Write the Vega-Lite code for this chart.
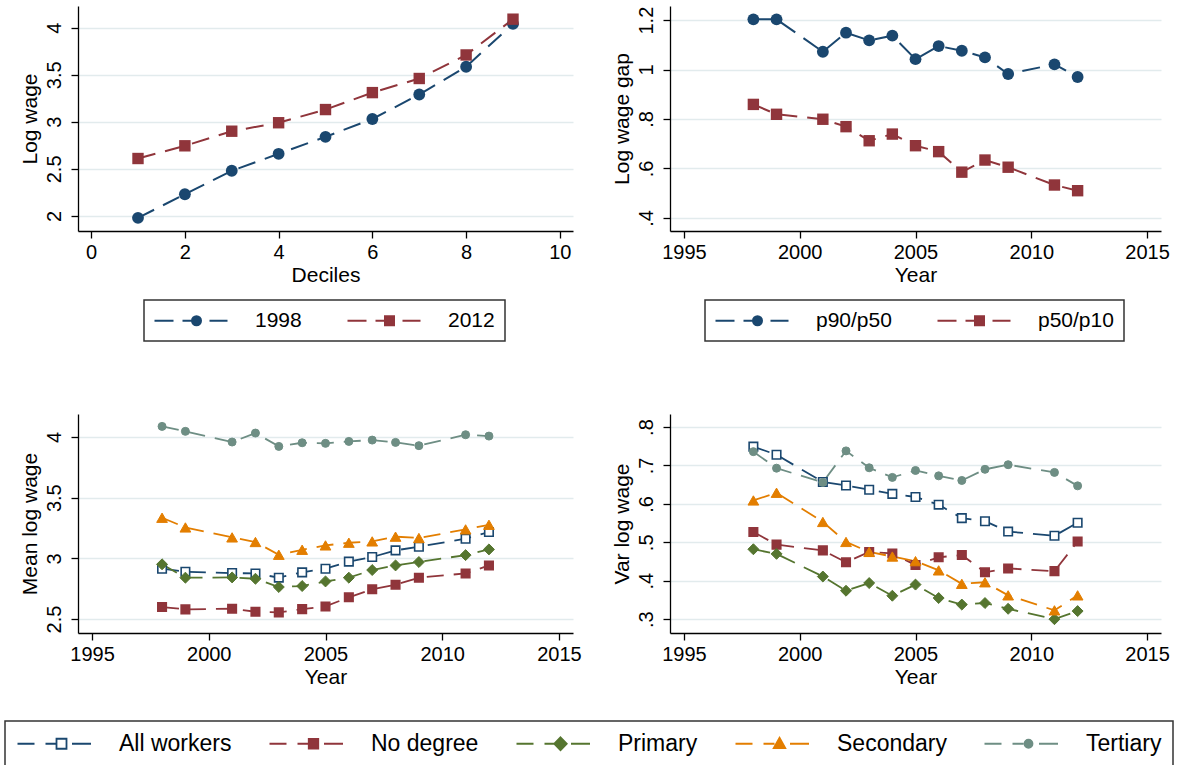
{
"$schema": "https://vega.github.io/schema/vega-lite/v6.json",
"background": "white",
"padding": {"left": 4, "top": 6, "right": 0, "bottom": 0},
"config": {
  "view": {"stroke": null},
  "font": "Liberation Sans",
  "axis": {"domainColor": "#000000", "domainWidth": 1.3, "tickColor": "#000000", "tickWidth": 1.3, "tickSize": 7,
    "labelFont": "Liberation Sans", "labelFontSize": 20, "labelColor": "#000000",
    "titleFont": "Liberation Sans", "titleFontSize": 21, "titleFontWeight": "normal", "titleColor": "#000000",
    "labelOverlap": false, "labelFlush": false, "gridColor": "#e2ebed", "gridWidth": 1.5},
  "axisX": {"grid": false, "labelPadding": 4, "titlePadding": 2},
  "axisY": {"grid": true, "labelAngle": -90, "labelAlign": "center", "labelBaseline": "alphabetic", "labelPadding": 11, "titlePadding": 4},
  "legend": {"labelFont": "Liberation Sans", "labelColor": "#000000", "strokeWidth": 1.5}
},
"datasets": {
  "deciles": [
    {"decile": 1, "series": "1998", "logwage": 1.98}, {"decile": 2, "series": "1998", "logwage": 2.23}, {"decile": 3, "series": "1998", "logwage": 2.48},
    {"decile": 4, "series": "1998", "logwage": 2.66}, {"decile": 5, "series": "1998", "logwage": 2.84}, {"decile": 6, "series": "1998", "logwage": 3.03},
    {"decile": 7, "series": "1998", "logwage": 3.29}, {"decile": 8, "series": "1998", "logwage": 3.585}, {"decile": 9, "series": "1998", "logwage": 4.04},
    {"decile": 1, "series": "2012", "logwage": 2.61}, {"decile": 2, "series": "2012", "logwage": 2.745}, {"decile": 3, "series": "2012", "logwage": 2.9},
    {"decile": 4, "series": "2012", "logwage": 2.99}, {"decile": 5, "series": "2012", "logwage": 3.13}, {"decile": 6, "series": "2012", "logwage": 3.31},
    {"decile": 7, "series": "2012", "logwage": 3.46}, {"decile": 8, "series": "2012", "logwage": 3.71}, {"decile": 9, "series": "2012", "logwage": 4.09}
  ],
  "gaps": [
    {"year": 1998, "ratio": "p90/p50", "gap": 1.203}, {"year": 1999, "ratio": "p90/p50", "gap": 1.203}, {"year": 2001, "ratio": "p90/p50", "gap": 1.072},
    {"year": 2002, "ratio": "p90/p50", "gap": 1.149}, {"year": 2003, "ratio": "p90/p50", "gap": 1.118}, {"year": 2004, "ratio": "p90/p50", "gap": 1.137},
    {"year": 2005, "ratio": "p90/p50", "gap": 1.042}, {"year": 2006, "ratio": "p90/p50", "gap": 1.095}, {"year": 2007, "ratio": "p90/p50", "gap": 1.076},
    {"year": 2008, "ratio": "p90/p50", "gap": 1.049}, {"year": 2009, "ratio": "p90/p50", "gap": 0.982}, {"year": 2011, "ratio": "p90/p50", "gap": 1.021},
    {"year": 2012, "ratio": "p90/p50", "gap": 0.970},
    {"year": 1998, "ratio": "p50/p10", "gap": 0.859}, {"year": 1999, "ratio": "p50/p10", "gap": 0.819}, {"year": 2001, "ratio": "p50/p10", "gap": 0.799},
    {"year": 2002, "ratio": "p50/p10", "gap": 0.769}, {"year": 2003, "ratio": "p50/p10", "gap": 0.712}, {"year": 2004, "ratio": "p50/p10", "gap": 0.739},
    {"year": 2005, "ratio": "p50/p10", "gap": 0.692}, {"year": 2006, "ratio": "p50/p10", "gap": 0.668}, {"year": 2007, "ratio": "p50/p10", "gap": 0.585},
    {"year": 2008, "ratio": "p50/p10", "gap": 0.634}, {"year": 2009, "ratio": "p50/p10", "gap": 0.605}, {"year": 2011, "ratio": "p50/p10", "gap": 0.533},
    {"year": 2012, "ratio": "p50/p10", "gap": 0.510}
  ],
  "edu": [
    {"year": 1998, "group": "All workers", "mean": 2.915, "var": 0.749}, {"year": 1999, "group": "All workers", "mean": 2.890, "var": 0.728},
    {"year": 2001, "group": "All workers", "mean": 2.879, "var": 0.657}, {"year": 2002, "group": "All workers", "mean": 2.876, "var": 0.648},
    {"year": 2003, "group": "All workers", "mean": 2.841, "var": 0.637}, {"year": 2004, "group": "All workers", "mean": 2.885, "var": 0.626},
    {"year": 2005, "group": "All workers", "mean": 2.915, "var": 0.618}, {"year": 2006, "group": "All workers", "mean": 2.973, "var": 0.598},
    {"year": 2007, "group": "All workers", "mean": 3.011, "var": 0.563}, {"year": 2008, "group": "All workers", "mean": 3.066, "var": 0.555},
    {"year": 2009, "group": "All workers", "mean": 3.096, "var": 0.528}, {"year": 2011, "group": "All workers", "mean": 3.162, "var": 0.517},
    {"year": 2012, "group": "All workers", "mean": 3.217, "var": 0.551},
    {"year": 1998, "group": "No degree", "mean": 2.599, "var": 0.527}, {"year": 1999, "group": "No degree", "mean": 2.580, "var": 0.494},
    {"year": 2001, "group": "No degree", "mean": 2.585, "var": 0.479}, {"year": 2002, "group": "No degree", "mean": 2.560, "var": 0.448},
    {"year": 2003, "group": "No degree", "mean": 2.555, "var": 0.475}, {"year": 2004, "group": "No degree", "mean": 2.582, "var": 0.471},
    {"year": 2005, "group": "No degree", "mean": 2.604, "var": 0.441}, {"year": 2006, "group": "No degree", "mean": 2.679, "var": 0.461},
    {"year": 2007, "group": "No degree", "mean": 2.745, "var": 0.467}, {"year": 2008, "group": "No degree", "mean": 2.783, "var": 0.422},
    {"year": 2009, "group": "No degree", "mean": 2.841, "var": 0.432}, {"year": 2011, "group": "No degree", "mean": 2.876, "var": 0.425},
    {"year": 2012, "group": "No degree", "mean": 2.942, "var": 0.502},
    {"year": 1998, "group": "Primary", "mean": 2.951, "var": 0.482}, {"year": 1999, "group": "Primary", "mean": 2.841, "var": 0.470},
    {"year": 2001, "group": "Primary", "mean": 2.843, "var": 0.411}, {"year": 2002, "group": "Primary", "mean": 2.832, "var": 0.374},
    {"year": 2003, "group": "Primary", "mean": 2.764, "var": 0.394}, {"year": 2004, "group": "Primary", "mean": 2.772, "var": 0.361},
    {"year": 2005, "group": "Primary", "mean": 2.810, "var": 0.390}, {"year": 2006, "group": "Primary", "mean": 2.841, "var": 0.355},
    {"year": 2007, "group": "Primary", "mean": 2.904, "var": 0.338}, {"year": 2008, "group": "Primary", "mean": 2.942, "var": 0.342},
    {"year": 2009, "group": "Primary", "mean": 2.970, "var": 0.327}, {"year": 2011, "group": "Primary", "mean": 3.027, "var": 0.300},
    {"year": 2012, "group": "Primary", "mean": 3.074, "var": 0.321},
    {"year": 1998, "group": "Secondary", "mean": 3.335, "var": 0.609}, {"year": 1999, "group": "Secondary", "mean": 3.255, "var": 0.629},
    {"year": 2001, "group": "Secondary", "mean": 3.173, "var": 0.553}, {"year": 2002, "group": "Secondary", "mean": 3.135, "var": 0.501},
    {"year": 2003, "group": "Secondary", "mean": 3.030, "var": 0.475}, {"year": 2004, "group": "Secondary", "mean": 3.071, "var": 0.463},
    {"year": 2005, "group": "Secondary", "mean": 3.107, "var": 0.451}, {"year": 2006, "group": "Secondary", "mean": 3.129, "var": 0.427},
    {"year": 2007, "group": "Secondary", "mean": 3.140, "var": 0.392}, {"year": 2008, "group": "Secondary", "mean": 3.179, "var": 0.396},
    {"year": 2009, "group": "Secondary", "mean": 3.168, "var": 0.362}, {"year": 2011, "group": "Secondary", "mean": 3.239, "var": 0.323},
    {"year": 2012, "group": "Secondary", "mean": 3.277, "var": 0.362},
    {"year": 1998, "group": "Tertiary", "mean": 4.088, "var": 0.736}, {"year": 1999, "group": "Tertiary", "mean": 4.047, "var": 0.693},
    {"year": 2001, "group": "Tertiary", "mean": 3.959, "var": 0.656}, {"year": 2002, "group": "Tertiary", "mean": 4.033, "var": 0.738},
    {"year": 2003, "group": "Tertiary", "mean": 3.923, "var": 0.694}, {"year": 2004, "group": "Tertiary", "mean": 3.953, "var": 0.669},
    {"year": 2005, "group": "Tertiary", "mean": 3.948, "var": 0.687}, {"year": 2006, "group": "Tertiary", "mean": 3.964, "var": 0.673},
    {"year": 2007, "group": "Tertiary", "mean": 3.975, "var": 0.661}, {"year": 2008, "group": "Tertiary", "mean": 3.956, "var": 0.690},
    {"year": 2009, "group": "Tertiary", "mean": 3.929, "var": 0.702}, {"year": 2011, "group": "Tertiary", "mean": 4.019, "var": 0.682},
    {"year": 2012, "group": "Tertiary", "mean": 4.008, "var": 0.647}
  ]
},
"columns": 2,
"spacing": {"row": 183, "column": 97},
"bounds": "flush",
"resolve": {"scale": {"x": "independent", "y": "independent", "color": "independent", "shape": "independent", "fill": "independent", "stroke": "independent"}, "legend": {"color": "independent", "shape": "independent", "fill": "independent", "stroke": "independent"}},
"concat": [
  {
    "width": 495, "height": 225,
    "data": {"name": "deciles"},
    "encoding": {
      "x": {"field": "decile", "type": "quantitative", "title": "Deciles", "scale": {"domain": [-0.28, 10.28], "nice": false, "zero": false}, "axis": {"values": [0, 2, 4, 6, 8, 10], "format": "d"}},
      "y": {"field": "logwage", "type": "quantitative", "title": "Log wage", "scale": {"domain": [1.84, 4.23], "nice": false, "zero": false}, "axis": {"values": [2, 2.5, 3, 3.5, 4], "labelExpr": "datum.value < 1 ? substring(toString(datum.value), 1) : toString(datum.value)"}}
    },
    "layer": [
      {"mark": {"type": "line", "strokeDash": [18, 10], "strokeWidth": 2},
       "encoding": {"color": {"field": "series", "type": "nominal", "scale": {"domain": ["1998", "2012"], "range": ["#1a476f", "#90353b"]},
        "legend": {"title": null, "orient": "none", "legendX": 66, "legendY": 294, "direction": "horizontal", "columns": 2, "padding": 10,
          "strokeColor": "#333333", "columnPadding": 41, "labelFontSize": 21, "symbolSize": 100, "symbolStrokeWidth": 2, "symbolOffset": 32, "labelOffset": 48}}}},
      {"transform": [{"filter": "datum.series === '1998'"}],
       "mark": {"type": "point", "filled": true, "opacity": 1, "size": 140, "shape": "circle"},
       "encoding": {"fill": {"field": "series", "type": "nominal", "scale": {"domain": ["1998", "2012"], "range": ["#1a476f", "#90353b"]}, "legend": null}}},
      {"transform": [{"filter": "datum.series === '2012'"}],
       "mark": {"type": "point", "filled": true, "opacity": 1, "size": 130, "shape": "square"},
       "encoding": {"fill": {"field": "series", "type": "nominal", "scale": {"domain": ["1998", "2012"], "range": ["#1a476f", "#90353b"]}, "legend": null}}},
      {"transform": [{"filter": "false"}],
       "mark": {"type": "point", "filled": true},
       "encoding": {"shape": {"field": "series", "type": "nominal", "scale": {"domain": ["1998", "2012"], "range": ["M-8.4,0H-4.6M-2.8,0H-0.9M2.6,0H6.2M0.9,0A0.9,0.9,0,1,1,-0.9,0A0.9,0.9,0,1,1,0.9,0Z", "M-8.4,0H-4.6M-2.8,0H-0.9M2.6,0H6.2M-0.9,-0.9H0.9V0.9H-0.9Z"]}, "legend": null}}}
    ]
  },
  {
    "width": 491, "height": 225,
    "data": {"name": "gaps"},
    "encoding": {
      "x": {"field": "year", "type": "quantitative", "title": "Year", "scale": {"domain": [1994.4, 2015.6], "nice": false, "zero": false}, "axis": {"values": [1995, 2000, 2005, 2010, 2015], "format": "d"}},
      "y": {"field": "gap", "type": "quantitative", "title": "Log wage gap", "scale": {"domain": [0.347, 1.257], "nice": false, "zero": false}, "axis": {"values": [0.4, 0.6, 0.8, 1, 1.2], "labelExpr": "datum.value < 1 ? substring(toString(datum.value), 1) : toString(datum.value)"}}
    },
    "layer": [
      {"mark": {"type": "line", "strokeDash": [18, 10], "strokeWidth": 2},
       "encoding": {"color": {"field": "ratio", "type": "nominal", "scale": {"domain": ["p90/p50", "p50/p10"], "range": ["#1a476f", "#90353b"]},
        "legend": {"title": null, "orient": "none", "legendX": 35, "legendY": 294, "direction": "horizontal", "columns": 2, "padding": 10,
          "strokeColor": "#333333", "columnPadding": 41, "labelFontSize": 21, "symbolSize": 100, "symbolStrokeWidth": 2, "symbolOffset": 32, "labelOffset": 48}}}},
      {"transform": [{"filter": "datum.ratio === 'p90/p50'"}],
       "mark": {"type": "point", "filled": true, "opacity": 1, "size": 140, "shape": "circle"},
       "encoding": {"fill": {"field": "ratio", "type": "nominal", "scale": {"domain": ["p90/p50", "p50/p10"], "range": ["#1a476f", "#90353b"]}, "legend": null}}},
      {"transform": [{"filter": "datum.ratio === 'p50/p10'"}],
       "mark": {"type": "point", "filled": true, "opacity": 1, "size": 130, "shape": "square"},
       "encoding": {"fill": {"field": "ratio", "type": "nominal", "scale": {"domain": ["p90/p50", "p50/p10"], "range": ["#1a476f", "#90353b"]}, "legend": null}}},
      {"transform": [{"filter": "false"}],
       "mark": {"type": "point", "filled": true},
       "encoding": {"shape": {"field": "ratio", "type": "nominal", "scale": {"domain": ["p90/p50", "p50/p10"], "range": ["M-8.4,0H-4.6M-2.8,0H-0.9M2.6,0H6.2M0.9,0A0.9,0.9,0,1,1,-0.9,0A0.9,0.9,0,1,1,0.9,0Z", "M-8.4,0H-4.6M-2.8,0H-0.9M2.6,0H6.2M-0.9,-0.9H0.9V0.9H-0.9Z"]}, "legend": null}}}
    ]
  },
  {
    "width": 495, "height": 219,
    "data": {"name": "edu"},
    "encoding": {
      "x": {"field": "year", "type": "quantitative", "title": "Year", "scale": {"domain": [1994.4, 2015.6], "nice": false, "zero": false}, "axis": {"values": [1995, 2000, 2005, 2010, 2015], "format": "d"}},
      "y": {"field": "mean", "type": "quantitative", "title": "Mean log wage", "scale": {"domain": [2.385, 4.19], "nice": false, "zero": false}, "axis": {"values": [2.5, 3, 3.5, 4], "labelExpr": "datum.value < 1 ? substring(toString(datum.value), 1) : toString(datum.value)"}}
    },
    "layer": [
      {"mark": {"type": "line", "strokeDash": [17, 10], "strokeWidth": 1.8},
       "encoding": {"color": {"field": "group", "type": "nominal", "scale": {"domain": ["All workers", "No degree", "Primary", "Secondary", "Tertiary"], "range": ["#1a476f", "#90353b", "#55752f", "#e37e00", "#6e8e84"]},
        "legend": {"title": null, "orient": "none", "legendX": -73, "legendY": 307, "direction": "horizontal", "columns": 5, "padding": 11,
          "strokeColor": "#333333", "columnPadding": 33, "labelFontSize": 23, "symbolSize": 100, "symbolStrokeWidth": 1.8, "symbolOffset": 34, "labelOffset": 46, "labelLimit": 300}}}},
      {"transform": [{"filter": "datum.group === 'All workers' || datum.group === 'No degree'"}],
       "mark": {"type": "point", "filled": true, "opacity": 1, "strokeWidth": 1.6, "shape": "square", "size": 72},
       "encoding": {
         "fill": {"field": "group", "type": "nominal", "scale": {"domain": ["All workers", "No degree", "Primary", "Secondary", "Tertiary"], "range": ["#ffffff", "#90353b", "#55752f", "#e37e00", "#6e8e84"]}, "legend": null},
         "stroke": {"field": "group", "type": "nominal", "scale": {"domain": ["All workers", "No degree", "Primary", "Secondary", "Tertiary"], "range": ["#1a476f", "#90353b", "#55752f", "#e37e00", "#6e8e84"]}, "legend": null}}},
      {"transform": [{"filter": "datum.group === 'Primary'"}],
       "mark": {"type": "point", "filled": true, "opacity": 1, "strokeWidth": 1, "shape": "diamond", "size": 120},
       "encoding": {
         "fill": {"field": "group", "type": "nominal", "scale": {"domain": ["All workers", "No degree", "Primary", "Secondary", "Tertiary"], "range": ["#ffffff", "#90353b", "#55752f", "#e37e00", "#6e8e84"]}, "legend": null},
         "stroke": {"field": "group", "type": "nominal", "scale": {"domain": ["All workers", "No degree", "Primary", "Secondary", "Tertiary"], "range": ["#1a476f", "#90353b", "#55752f", "#e37e00", "#6e8e84"]}, "legend": null}}},
      {"transform": [{"filter": "datum.group === 'Secondary'"}],
       "mark": {"type": "point", "filled": true, "opacity": 1, "strokeWidth": 1, "shape": "triangle-up", "size": 115},
       "encoding": {
         "fill": {"field": "group", "type": "nominal", "scale": {"domain": ["All workers", "No degree", "Primary", "Secondary", "Tertiary"], "range": ["#ffffff", "#90353b", "#55752f", "#e37e00", "#6e8e84"]}, "legend": null},
         "stroke": {"field": "group", "type": "nominal", "scale": {"domain": ["All workers", "No degree", "Primary", "Secondary", "Tertiary"], "range": ["#1a476f", "#90353b", "#55752f", "#e37e00", "#6e8e84"]}, "legend": null}}},
      {"transform": [{"filter": "datum.group === 'Tertiary'"}],
       "mark": {"type": "point", "filled": true, "opacity": 1, "strokeWidth": 1, "shape": "circle", "size": 64},
       "encoding": {
         "fill": {"field": "group", "type": "nominal", "scale": {"domain": ["All workers", "No degree", "Primary", "Secondary", "Tertiary"], "range": ["#ffffff", "#90353b", "#55752f", "#e37e00", "#6e8e84"]}, "legend": null},
         "stroke": {"field": "group", "type": "nominal", "scale": {"domain": ["All workers", "No degree", "Primary", "Secondary", "Tertiary"], "range": ["#1a476f", "#90353b", "#55752f", "#e37e00", "#6e8e84"]}, "legend": null}}},
      {"transform": [{"filter": "false"}],
       "mark": {"type": "point", "filled": true},
       "encoding": {"shape": {"field": "group", "type": "nominal", "scale": {"domain": ["All workers", "No degree", "Primary", "Secondary", "Tertiary"], "range": [
         "M-8.8,0H-5.4M-3.2,0H-1M2.1,0H5.9M-1,-1H1V1H-1Z",
         "M-8.8,0H-5.4M-3.2,0H-1M2.1,0H5.9M-0.95,-0.95H0.95V0.95H-0.95Z",
         "M-8.8,0H-5.4M-3.2,0H-1M2.1,0H5.9M0,-1.3L1.25,0L0,1.3L-1.25,0Z",
         "M-8.8,0H-5.4M-3.2,0H-1M2.1,0H5.9M0,-1.2L1.15,0.85L-1.15,0.85Z",
         "M-8.8,0H-5.4M-3.2,0H-1M2.1,0H5.9M0.8,0A0.8,0.8,0,1,1,-0.8,0A0.8,0.8,0,1,1,0.8,0Z"]}, "legend": null}}}
    ]
  },
  {
    "width": 491, "height": 219,
    "data": {"name": "edu"},
    "encoding": {
      "x": {"field": "year", "type": "quantitative", "title": "Year", "scale": {"domain": [1994.4, 2015.6], "nice": false, "zero": false}, "axis": {"values": [1995, 2000, 2005, 2010, 2015], "format": "d"}},
      "y": {"field": "var", "type": "quantitative", "title": "Var log wage", "scale": {"domain": [0.264, 0.834], "nice": false, "zero": false}, "axis": {"values": [0.3, 0.4, 0.5, 0.6, 0.7, 0.8], "labelExpr": "datum.value < 1 ? substring(toString(datum.value), 1) : toString(datum.value)"}}
    },
    "layer": [
      {"mark": {"type": "line", "strokeDash": [17, 10], "strokeWidth": 1.8},
       "encoding": {"color": {"field": "group", "type": "nominal", "scale": {"domain": ["All workers", "No degree", "Primary", "Secondary", "Tertiary"], "range": ["#1a476f", "#90353b", "#55752f", "#e37e00", "#6e8e84"]}, "legend": null}}},
      {"transform": [{"filter": "datum.group === 'All workers' || datum.group === 'No degree'"}],
       "mark": {"type": "point", "filled": true, "opacity": 1, "strokeWidth": 1.6, "shape": "square", "size": 72},
       "encoding": {
         "fill": {"field": "group", "type": "nominal", "scale": {"domain": ["All workers", "No degree", "Primary", "Secondary", "Tertiary"], "range": ["#ffffff", "#90353b", "#55752f", "#e37e00", "#6e8e84"]}, "legend": null},
         "stroke": {"field": "group", "type": "nominal", "scale": {"domain": ["All workers", "No degree", "Primary", "Secondary", "Tertiary"], "range": ["#1a476f", "#90353b", "#55752f", "#e37e00", "#6e8e84"]}, "legend": null}}},
      {"transform": [{"filter": "datum.group === 'Primary'"}],
       "mark": {"type": "point", "filled": true, "opacity": 1, "strokeWidth": 1, "shape": "diamond", "size": 120},
       "encoding": {
         "fill": {"field": "group", "type": "nominal", "scale": {"domain": ["All workers", "No degree", "Primary", "Secondary", "Tertiary"], "range": ["#ffffff", "#90353b", "#55752f", "#e37e00", "#6e8e84"]}, "legend": null},
         "stroke": {"field": "group", "type": "nominal", "scale": {"domain": ["All workers", "No degree", "Primary", "Secondary", "Tertiary"], "range": ["#1a476f", "#90353b", "#55752f", "#e37e00", "#6e8e84"]}, "legend": null}}},
      {"transform": [{"filter": "datum.group === 'Secondary'"}],
       "mark": {"type": "point", "filled": true, "opacity": 1, "strokeWidth": 1, "shape": "triangle-up", "size": 115},
       "encoding": {
         "fill": {"field": "group", "type": "nominal", "scale": {"domain": ["All workers", "No degree", "Primary", "Secondary", "Tertiary"], "range": ["#ffffff", "#90353b", "#55752f", "#e37e00", "#6e8e84"]}, "legend": null},
         "stroke": {"field": "group", "type": "nominal", "scale": {"domain": ["All workers", "No degree", "Primary", "Secondary", "Tertiary"], "range": ["#1a476f", "#90353b", "#55752f", "#e37e00", "#6e8e84"]}, "legend": null}}},
      {"transform": [{"filter": "datum.group === 'Tertiary'"}],
       "mark": {"type": "point", "filled": true, "opacity": 1, "strokeWidth": 1, "shape": "circle", "size": 64},
       "encoding": {
         "fill": {"field": "group", "type": "nominal", "scale": {"domain": ["All workers", "No degree", "Primary", "Secondary", "Tertiary"], "range": ["#ffffff", "#90353b", "#55752f", "#e37e00", "#6e8e84"]}, "legend": null},
         "stroke": {"field": "group", "type": "nominal", "scale": {"domain": ["All workers", "No degree", "Primary", "Secondary", "Tertiary"], "range": ["#1a476f", "#90353b", "#55752f", "#e37e00", "#6e8e84"]}, "legend": null}}}
    ]
  }
]
}
